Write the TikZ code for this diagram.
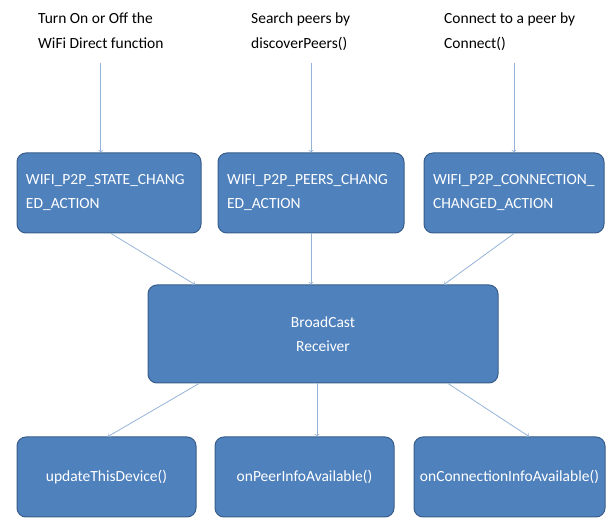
\documentclass[tikz,border=0pt]{standalone}
\usepackage{fontspec}
\setmainfont{Carlito}
\usetikzlibrary{arrows}

\definecolor{boxfill}{HTML}{4F81BD}
\definecolor{boxline}{HTML}{385D8A}
\definecolor{arrowline}{HTML}{95B3D7}

\begin{document}
\begin{tikzpicture} [
    x=1pt, y=-1pt,
    lbl/.style = {align=left, font=\fontsize{15.5}{25}\selectfont, inner sep=0pt},
    b/.style = {rectangle, draw=boxline, line width=1pt, fill=boxfill, text=white,
    rounded corners=9pt, font=\fontsize{15.5}{24}\selectfont},
    bt/.style = {b, align=left, text width=#1, inner xsep=9pt},
    arrow/.style = {draw=arrowline, line width=0.8pt, ->}
    ]
    \useasboundingbox (0,0) rectangle (606,518);

    % labels on top
    \node[lbl, anchor=north west](tstate) at (38,13) {Turn On or Off the\\WiFi Direct function};
    \node[lbl, anchor=north west](tpeers) at (251,13) {Search peers by\\discoverPeers()};
    \node[lbl, anchor=north west](tconn) at (444,13) {Connect to a peer by\\Connect()};

    % intent boxes
    \node[bt=166pt, minimum height=80pt](state) at (109,193) {WIFI\_P2P\_STATE\_CHANG\\ED\_ACTION};
    \node[bt=168pt, minimum height=80pt](peers) at (311,193) {WIFI\_P2P\_PEERS\_CHANG\\ED\_ACTION};
    \node[bt=162pt, minimum height=80pt](conn) at (514,193) {WIFI\_P2P\_CONNECTION\_\\CHANGED\_ACTION};

    \node[b, align=center, minimum width=350pt, minimum height=98pt](recv) at (323,334) {BroadCast\\Receiver};

    % callbacks
    \node[b, minimum width=179pt, minimum height=80pt](upd) at (106.5,477) {updateThisDevice()};
    \node[b, minimum width=179pt, minimum height=80pt](peerinfo) at (304.5,477) {onPeerInfoAvailable()};
    \node[b, minimum width=191pt, minimum height=80pt](conninfo) at (509.5,477) {onConnectionInfoAvailable()};

    \draw[arrow] (tstate.south |- 0,63) -- (tstate.south |- state.north);
    \draw[arrow] (peers.north |- 0,63) -- (peers.north);
    \draw[arrow] (conn.north |- 0,63) -- (conn.north);

    \draw[arrow] ([xshift=2pt]state.south) -- ([xshift=-128pt]recv.north);
    \draw[arrow] (peers.south) -- (peers.south |- recv.north);
    \draw[arrow] (conn.south) -- ([xshift=121pt]recv.north);

    \draw[arrow] ([xshift=-124pt]recv.south) -- ([xshift=1.5pt]upd.north);
    \draw[arrow] ([xshift=-6pt]recv.south) -- ([xshift=12.5pt]peerinfo.north);
    \draw[arrow] ([xshift=125pt]recv.south) -- ([xshift=19.5pt]conninfo.north);

\end{tikzpicture}
\end{document}
